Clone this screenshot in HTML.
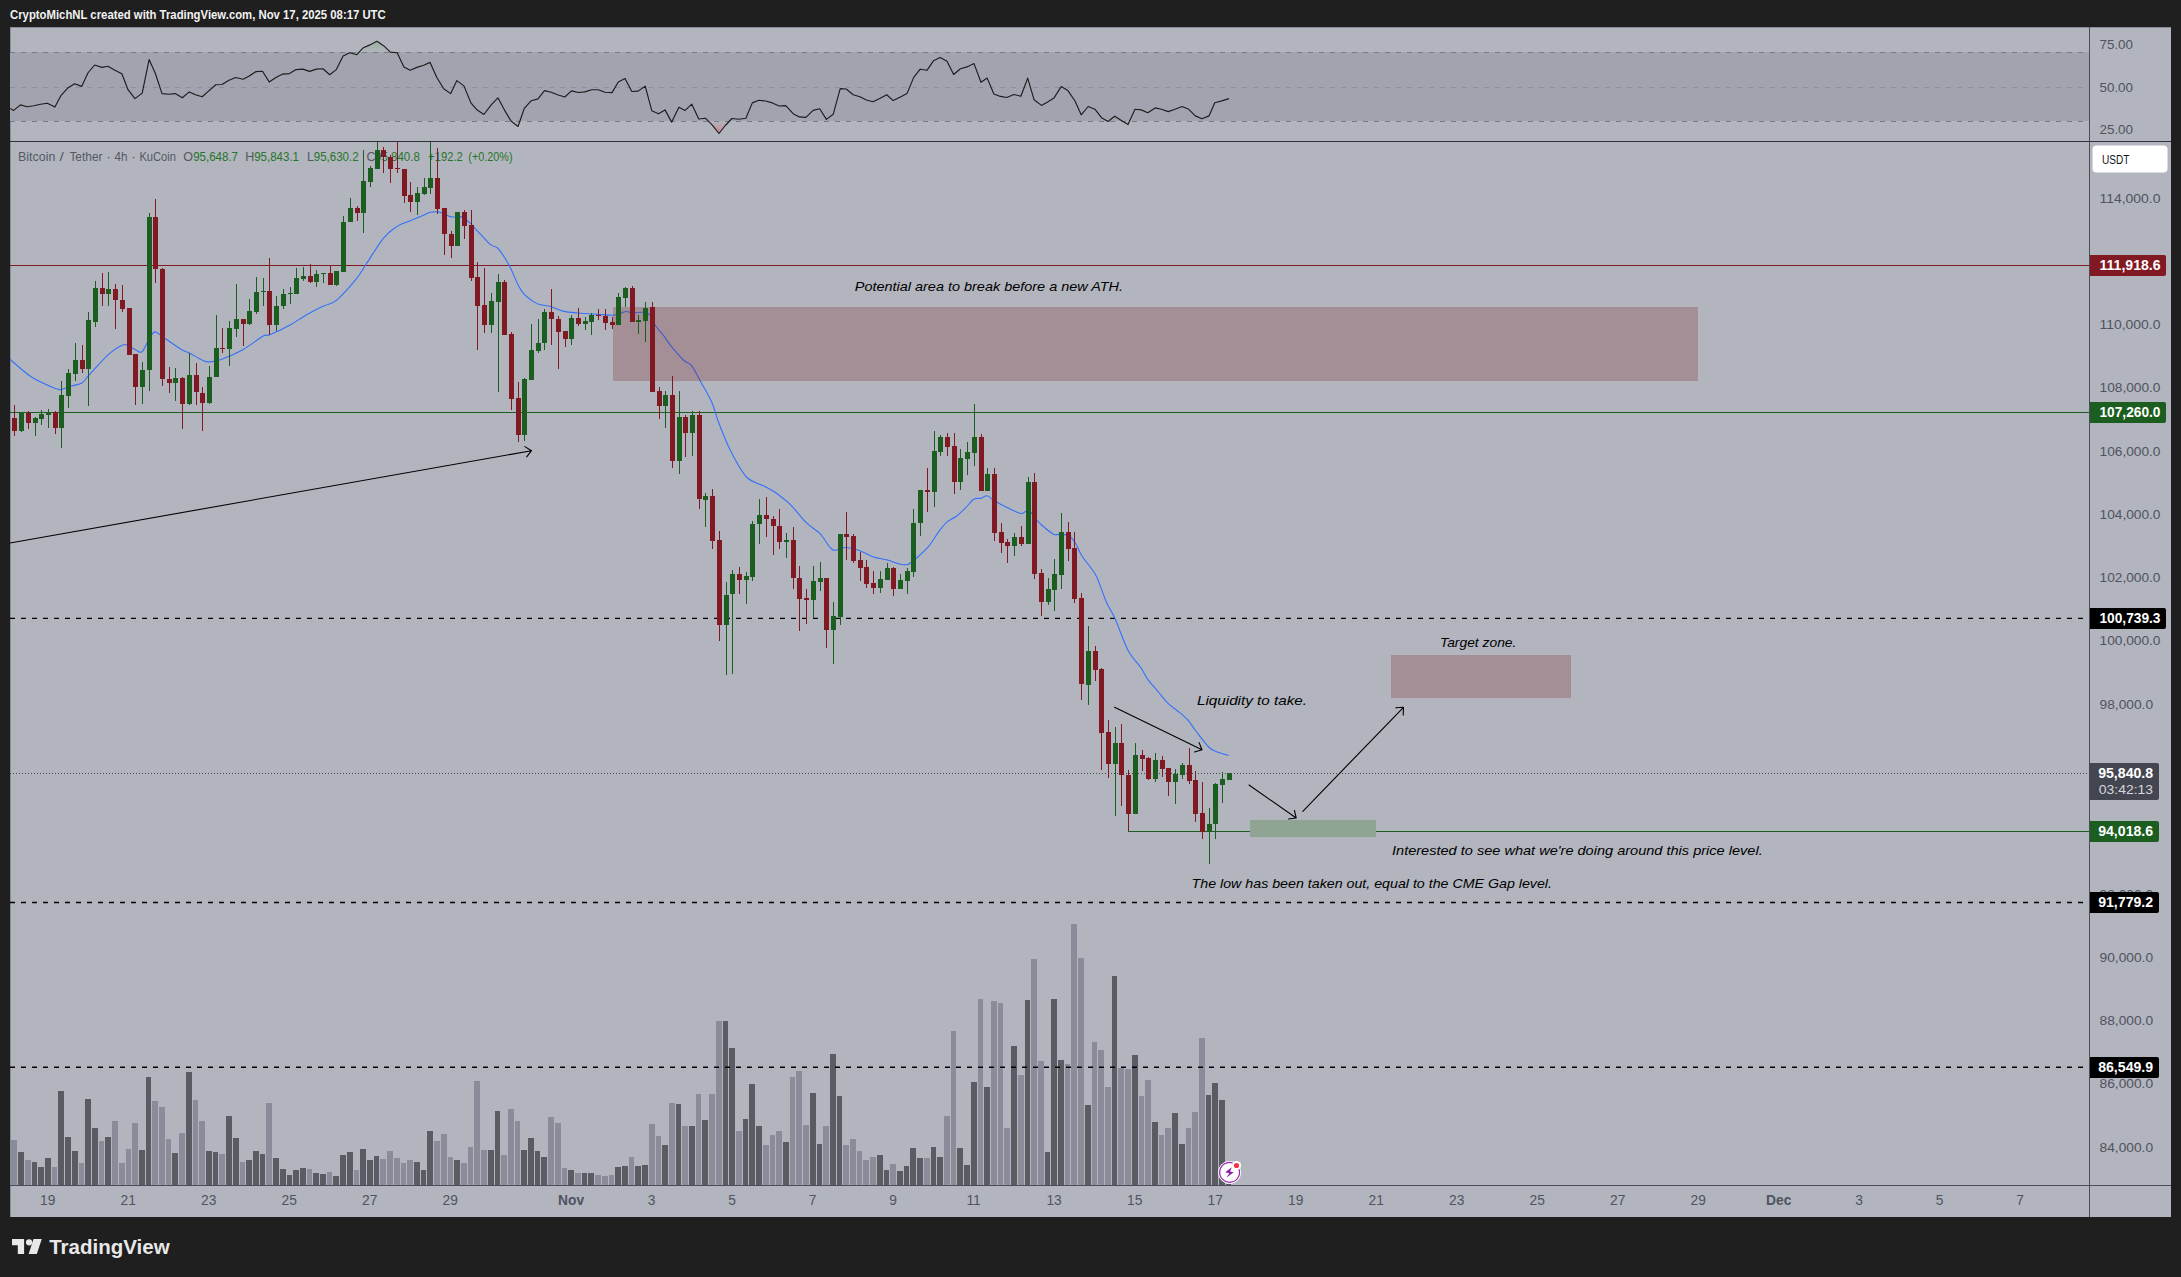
<!DOCTYPE html><html><head><meta charset="utf-8"><title>chart</title><style>html,body{margin:0;padding:0;background:#1f1f1f;width:2181px;height:1277px;overflow:hidden}</style></head><body><svg width="2181" height="1277" viewBox="0 0 2181 1277" style="position:absolute;left:0;top:0;font-family:'Liberation Sans',sans-serif">
<rect x="0" y="0" width="2181" height="1277" fill="#1f1f1f"/>
<rect x="10" y="27" width="2161" height="1190" fill="#b2b5be"/>
<rect x="10" y="27" width="2161" height="1" fill="#8a8d97"/>
<rect x="10" y="27" width="1" height="1190" fill="#8a8d97"/>
<defs><clipPath id="cp"><rect x="10" y="142" width="2079" height="1043"/></clipPath><clipPath id="cr"><rect x="10" y="28" width="2079" height="113"/></clipPath>
<linearGradient id="gob" gradientUnits="userSpaceOnUse" x1="0" y1="27" x2="0" y2="52.5"><stop offset="0" stop-color="#4caf50" stop-opacity="0.6"/><stop offset="1" stop-color="#4caf50" stop-opacity="0"/></linearGradient>
<linearGradient id="gos" gradientUnits="userSpaceOnUse" x1="0" y1="121.5" x2="0" y2="141"><stop offset="0" stop-color="#f23645" stop-opacity="0"/><stop offset="1" stop-color="#f23645" stop-opacity="0.6"/></linearGradient>
</defs>
<rect x="10" y="52" width="2079" height="69" fill="#a1a4ae"/>
<path d="M10 52.5H2089" stroke="#787b86" stroke-width="1" stroke-dasharray="5 6" fill="none" shape-rendering="crispEdges"/>
<path d="M10 87.5H2089" stroke="#8d909b" stroke-width="1" stroke-dasharray="5 6" fill="none" shape-rendering="crispEdges"/>
<path d="M10 121.5H2089" stroke="#787b86" stroke-width="1" stroke-dasharray="5 6" fill="none" shape-rendering="crispEdges"/>
<g clip-path="url(#cr)">
<clipPath id="c70"><rect x="10" y="28" width="2079" height="24.5"/></clipPath><clipPath id="c30"><rect x="10" y="121.5" width="2079" height="20"/></clipPath>
<path d="M10.0 108.4 L13.7 110.4 L20.4 104.9 L27.1 106.8 L33.9 105.7 L40.6 104.2 L47.3 103.2 L54.9 107.0 L61.1 95.3 L67.7 88.1 L74.7 83.7 L81.7 86.4 L87.9 73.0 L94.6 65.0 L102.0 67.4 L107.9 66.3 L114.9 70.2 L121.9 73.8 L128.0 89.7 L135.0 98.6 L142.2 93.1 L149.1 59.6 L155.4 73.5 L162.0 93.6 L169.0 94.3 L175.2 93.6 L182.3 97.8 L189.3 91.9 L195.5 94.7 L202.2 96.8 L208.8 90.9 L215.8 84.7 L222.0 84.5 L229.0 80.2 L235.7 77.5 L243.1 79.2 L249.3 76.1 L256.0 71.6 L262.5 71.3 L269.2 81.9 L276.3 77.2 L282.8 74.1 L289.5 73.6 L296.1 69.6 L302.8 69.1 L309.6 71.4 L316.3 69.1 L323.0 68.8 L329.7 74.7 L336.3 69.6 L343.1 56.0 L349.8 52.7 L356.8 54.7 L363.4 47.7 L369.9 44.9 L376.9 41.3 L383.6 45.7 L390.4 52.1 L397.2 52.7 L403.9 66.9 L410.2 70.2 L416.9 67.4 L423.7 65.2 L430.1 62.4 L436.7 77.2 L443.7 88.7 L450.7 93.6 L456.9 80.6 L463.9 85.9 L470.9 102.8 L477.2 110.1 L483.9 114.5 L491.2 104.9 L497.9 97.8 L504.5 110.1 L511.0 121.0 L518.0 126.5 L524.3 108.4 L531.3 100.7 L538.0 98.9 L544.5 90.6 L551.2 92.3 L558.2 95.0 L564.8 97.0 L571.5 90.9 L578.2 92.5 L584.8 91.9 L591.8 89.7 L598.3 89.7 L605.0 92.2 L612.0 92.6 L618.3 82.0 L625.0 78.6 L631.8 91.5 L638.1 91.1 L645.2 86.2 L651.8 110.7 L658.5 113.8 L665.0 109.9 L671.7 122.1 L678.9 107.3 L685.1 110.4 L691.8 104.2 L698.8 119.0 L705.4 118.2 L712.1 124.9 L719.0 133.5 L725.3 125.5 L731.9 118.5 L738.6 119.3 L745.9 118.2 L752.3 102.9 L758.9 100.3 L765.6 101.0 L772.4 102.9 L779.1 106.0 L785.7 105.6 L793.2 113.7 L799.4 116.9 L805.9 117.4 L813.1 110.4 L819.7 108.8 L826.4 119.4 L833.2 114.3 L840.2 88.6 L846.2 89.0 L853.2 94.7 L859.9 96.7 L866.4 100.0 L873.0 101.7 L879.7 98.4 L886.7 94.7 L893.2 100.6 L900.4 97.0 L907.0 93.6 L913.7 77.4 L920.2 69.2 L926.9 70.3 L933.5 60.8 L940.2 57.6 L947.0 61.3 L953.7 74.5 L960.4 68.8 L967.0 66.9 L974.0 63.6 L981.0 82.3 L987.2 78.1 L993.9 94.0 L1000.4 96.5 L1000.5 96.4 L1006.8 97.5 L1013.9 94.5 L1020.9 96.2 L1027.7 78.1 L1034.1 99.8 L1041.4 105.4 L1048.1 101.8 L1053.9 98.1 L1061.2 86.6 L1067.9 90.6 L1075.0 101.0 L1081.2 114.8 L1088.2 106.5 L1094.9 109.2 L1101.5 117.7 L1108.0 121.5 L1114.7 116.2 L1121.4 120.5 L1128.0 124.6 L1135.0 109.3 L1141.2 109.9 L1147.8 112.7 L1155.2 107.9 L1161.5 109.2 L1168.2 111.6 L1175.0 109.2 L1182.1 106.5 L1188.8 109.3 L1195.3 115.9 L1202.0 118.7 L1209.0 115.9 L1214.8 102.8 L1221.8 100.9 L1229.0 98.6 L1229.0 52.5 L10 52.5Z" fill="url(#gob)" clip-path="url(#c70)"/>
<path d="M10.0 108.4 L13.7 110.4 L20.4 104.9 L27.1 106.8 L33.9 105.7 L40.6 104.2 L47.3 103.2 L54.9 107.0 L61.1 95.3 L67.7 88.1 L74.7 83.7 L81.7 86.4 L87.9 73.0 L94.6 65.0 L102.0 67.4 L107.9 66.3 L114.9 70.2 L121.9 73.8 L128.0 89.7 L135.0 98.6 L142.2 93.1 L149.1 59.6 L155.4 73.5 L162.0 93.6 L169.0 94.3 L175.2 93.6 L182.3 97.8 L189.3 91.9 L195.5 94.7 L202.2 96.8 L208.8 90.9 L215.8 84.7 L222.0 84.5 L229.0 80.2 L235.7 77.5 L243.1 79.2 L249.3 76.1 L256.0 71.6 L262.5 71.3 L269.2 81.9 L276.3 77.2 L282.8 74.1 L289.5 73.6 L296.1 69.6 L302.8 69.1 L309.6 71.4 L316.3 69.1 L323.0 68.8 L329.7 74.7 L336.3 69.6 L343.1 56.0 L349.8 52.7 L356.8 54.7 L363.4 47.7 L369.9 44.9 L376.9 41.3 L383.6 45.7 L390.4 52.1 L397.2 52.7 L403.9 66.9 L410.2 70.2 L416.9 67.4 L423.7 65.2 L430.1 62.4 L436.7 77.2 L443.7 88.7 L450.7 93.6 L456.9 80.6 L463.9 85.9 L470.9 102.8 L477.2 110.1 L483.9 114.5 L491.2 104.9 L497.9 97.8 L504.5 110.1 L511.0 121.0 L518.0 126.5 L524.3 108.4 L531.3 100.7 L538.0 98.9 L544.5 90.6 L551.2 92.3 L558.2 95.0 L564.8 97.0 L571.5 90.9 L578.2 92.5 L584.8 91.9 L591.8 89.7 L598.3 89.7 L605.0 92.2 L612.0 92.6 L618.3 82.0 L625.0 78.6 L631.8 91.5 L638.1 91.1 L645.2 86.2 L651.8 110.7 L658.5 113.8 L665.0 109.9 L671.7 122.1 L678.9 107.3 L685.1 110.4 L691.8 104.2 L698.8 119.0 L705.4 118.2 L712.1 124.9 L719.0 133.5 L725.3 125.5 L731.9 118.5 L738.6 119.3 L745.9 118.2 L752.3 102.9 L758.9 100.3 L765.6 101.0 L772.4 102.9 L779.1 106.0 L785.7 105.6 L793.2 113.7 L799.4 116.9 L805.9 117.4 L813.1 110.4 L819.7 108.8 L826.4 119.4 L833.2 114.3 L840.2 88.6 L846.2 89.0 L853.2 94.7 L859.9 96.7 L866.4 100.0 L873.0 101.7 L879.7 98.4 L886.7 94.7 L893.2 100.6 L900.4 97.0 L907.0 93.6 L913.7 77.4 L920.2 69.2 L926.9 70.3 L933.5 60.8 L940.2 57.6 L947.0 61.3 L953.7 74.5 L960.4 68.8 L967.0 66.9 L974.0 63.6 L981.0 82.3 L987.2 78.1 L993.9 94.0 L1000.4 96.5 L1000.5 96.4 L1006.8 97.5 L1013.9 94.5 L1020.9 96.2 L1027.7 78.1 L1034.1 99.8 L1041.4 105.4 L1048.1 101.8 L1053.9 98.1 L1061.2 86.6 L1067.9 90.6 L1075.0 101.0 L1081.2 114.8 L1088.2 106.5 L1094.9 109.2 L1101.5 117.7 L1108.0 121.5 L1114.7 116.2 L1121.4 120.5 L1128.0 124.6 L1135.0 109.3 L1141.2 109.9 L1147.8 112.7 L1155.2 107.9 L1161.5 109.2 L1168.2 111.6 L1175.0 109.2 L1182.1 106.5 L1188.8 109.3 L1195.3 115.9 L1202.0 118.7 L1209.0 115.9 L1214.8 102.8 L1221.8 100.9 L1229.0 98.6 L1229.0 121.5 L10 121.5Z" fill="url(#gos)" clip-path="url(#c30)"/>
<path d="M10.0 108.4 L13.7 110.4 L20.4 104.9 L27.1 106.8 L33.9 105.7 L40.6 104.2 L47.3 103.2 L54.9 107.0 L61.1 95.3 L67.7 88.1 L74.7 83.7 L81.7 86.4 L87.9 73.0 L94.6 65.0 L102.0 67.4 L107.9 66.3 L114.9 70.2 L121.9 73.8 L128.0 89.7 L135.0 98.6 L142.2 93.1 L149.1 59.6 L155.4 73.5 L162.0 93.6 L169.0 94.3 L175.2 93.6 L182.3 97.8 L189.3 91.9 L195.5 94.7 L202.2 96.8 L208.8 90.9 L215.8 84.7 L222.0 84.5 L229.0 80.2 L235.7 77.5 L243.1 79.2 L249.3 76.1 L256.0 71.6 L262.5 71.3 L269.2 81.9 L276.3 77.2 L282.8 74.1 L289.5 73.6 L296.1 69.6 L302.8 69.1 L309.6 71.4 L316.3 69.1 L323.0 68.8 L329.7 74.7 L336.3 69.6 L343.1 56.0 L349.8 52.7 L356.8 54.7 L363.4 47.7 L369.9 44.9 L376.9 41.3 L383.6 45.7 L390.4 52.1 L397.2 52.7 L403.9 66.9 L410.2 70.2 L416.9 67.4 L423.7 65.2 L430.1 62.4 L436.7 77.2 L443.7 88.7 L450.7 93.6 L456.9 80.6 L463.9 85.9 L470.9 102.8 L477.2 110.1 L483.9 114.5 L491.2 104.9 L497.9 97.8 L504.5 110.1 L511.0 121.0 L518.0 126.5 L524.3 108.4 L531.3 100.7 L538.0 98.9 L544.5 90.6 L551.2 92.3 L558.2 95.0 L564.8 97.0 L571.5 90.9 L578.2 92.5 L584.8 91.9 L591.8 89.7 L598.3 89.7 L605.0 92.2 L612.0 92.6 L618.3 82.0 L625.0 78.6 L631.8 91.5 L638.1 91.1 L645.2 86.2 L651.8 110.7 L658.5 113.8 L665.0 109.9 L671.7 122.1 L678.9 107.3 L685.1 110.4 L691.8 104.2 L698.8 119.0 L705.4 118.2 L712.1 124.9 L719.0 133.5 L725.3 125.5 L731.9 118.5 L738.6 119.3 L745.9 118.2 L752.3 102.9 L758.9 100.3 L765.6 101.0 L772.4 102.9 L779.1 106.0 L785.7 105.6 L793.2 113.7 L799.4 116.9 L805.9 117.4 L813.1 110.4 L819.7 108.8 L826.4 119.4 L833.2 114.3 L840.2 88.6 L846.2 89.0 L853.2 94.7 L859.9 96.7 L866.4 100.0 L873.0 101.7 L879.7 98.4 L886.7 94.7 L893.2 100.6 L900.4 97.0 L907.0 93.6 L913.7 77.4 L920.2 69.2 L926.9 70.3 L933.5 60.8 L940.2 57.6 L947.0 61.3 L953.7 74.5 L960.4 68.8 L967.0 66.9 L974.0 63.6 L981.0 82.3 L987.2 78.1 L993.9 94.0 L1000.4 96.5 L1000.5 96.4 L1006.8 97.5 L1013.9 94.5 L1020.9 96.2 L1027.7 78.1 L1034.1 99.8 L1041.4 105.4 L1048.1 101.8 L1053.9 98.1 L1061.2 86.6 L1067.9 90.6 L1075.0 101.0 L1081.2 114.8 L1088.2 106.5 L1094.9 109.2 L1101.5 117.7 L1108.0 121.5 L1114.7 116.2 L1121.4 120.5 L1128.0 124.6 L1135.0 109.3 L1141.2 109.9 L1147.8 112.7 L1155.2 107.9 L1161.5 109.2 L1168.2 111.6 L1175.0 109.2 L1182.1 106.5 L1188.8 109.3 L1195.3 115.9 L1202.0 118.7 L1209.0 115.9 L1214.8 102.8 L1221.8 100.9 L1229.0 98.6" fill="none" stroke="#1c1c1c" stroke-width="1.15" stroke-linejoin="round"/>
</g>
<g clip-path="url(#cp)">
<g font-size="12.6" fill="#555863">
<text x="18.1" y="161.3" textLength="37.2" lengthAdjust="spacingAndGlyphs" >Bitcoin</text>
<text x="59.6" y="161.3" textLength="4.3" lengthAdjust="spacingAndGlyphs" >/</text>
<text x="69.4" y="161.3" textLength="33.2" lengthAdjust="spacingAndGlyphs" >Tether</text>
<text x="106.5" y="161.3" >·</text>
<text x="114.6" y="161.3" textLength="13" lengthAdjust="spacingAndGlyphs" >4h</text>
<text x="131.6" y="161.3" >·</text>
<text x="139.4" y="161.3" textLength="36.6" lengthAdjust="spacingAndGlyphs" >KuCoin</text>
<text x="183.3" y="161.3" >O</text>
<text x="193.2" y="161.3" textLength="44.8" lengthAdjust="spacingAndGlyphs" fill="#26742b">95,648.7</text>
<text x="245.2" y="161.3" >H</text>
<text x="254.2" y="161.3" textLength="44.8" lengthAdjust="spacingAndGlyphs" fill="#26742b">95,843.1</text>
<text x="307" y="161.3" >L</text>
<text x="313.8" y="161.3" textLength="44.8" lengthAdjust="spacingAndGlyphs" fill="#26742b">95,630.2</text>
<text x="366.5" y="161.3" >C</text>
<text x="375" y="161.3" textLength="44.8" lengthAdjust="spacingAndGlyphs" fill="#26742b">95,840.8</text>
<text x="428.2" y="161.3" textLength="34.6" lengthAdjust="spacingAndGlyphs" fill="#26742b">+192.2</text>
<text x="468.3" y="161.3" textLength="44.2" lengthAdjust="spacingAndGlyphs" fill="#26742b">(+0.20%)</text>
</g>
<rect x="10" y="265" width="2079" height="1" fill="#801922"/>
<rect x="10" y="412" width="2079" height="1" fill="#1b5e20"/>
<rect x="1128" y="831" width="961" height="1" fill="#1b5e20"/>
<path d="M10 773.5H2089" stroke="#434651" stroke-width="1" stroke-dasharray="1 2" fill="none" shape-rendering="crispEdges"/>
<g shape-rendering="crispEdges">
<rect x="11" y="1140" width="6" height="45" fill="#8b8c99"/>
<rect x="18" y="1152" width="6" height="33" fill="#5b5c63"/>
<rect x="25" y="1160" width="6" height="25" fill="#8b8c99"/>
<rect x="32" y="1162" width="5" height="23" fill="#5b5c63"/>
<rect x="38" y="1167" width="6" height="18" fill="#5b5c63"/>
<rect x="45" y="1158" width="6" height="27" fill="#5b5c63"/>
<rect x="52" y="1167" width="5" height="18" fill="#8b8c99"/>
<rect x="58" y="1091" width="6" height="94" fill="#5b5c63"/>
<rect x="65" y="1137" width="6" height="48" fill="#5b5c63"/>
<rect x="72" y="1151" width="6" height="34" fill="#5b5c63"/>
<rect x="79" y="1163" width="5" height="22" fill="#8b8c99"/>
<rect x="85" y="1099" width="6" height="86" fill="#5b5c63"/>
<rect x="92" y="1128" width="6" height="57" fill="#5b5c63"/>
<rect x="99" y="1141" width="5" height="44" fill="#8b8c99"/>
<rect x="105" y="1137" width="6" height="48" fill="#5b5c63"/>
<rect x="112" y="1121" width="6" height="64" fill="#8b8c99"/>
<rect x="119" y="1163" width="6" height="22" fill="#8b8c99"/>
<rect x="126" y="1149" width="5" height="36" fill="#8b8c99"/>
<rect x="132" y="1123" width="6" height="62" fill="#8b8c99"/>
<rect x="139" y="1150" width="6" height="35" fill="#5b5c63"/>
<rect x="146" y="1077" width="5" height="108" fill="#5b5c63"/>
<rect x="152" y="1101" width="6" height="84" fill="#8b8c99"/>
<rect x="159" y="1107" width="6" height="78" fill="#8b8c99"/>
<rect x="166" y="1139" width="5" height="46" fill="#8b8c99"/>
<rect x="172" y="1153" width="6" height="32" fill="#5b5c63"/>
<rect x="179" y="1133" width="6" height="52" fill="#8b8c99"/>
<rect x="186" y="1072" width="6" height="113" fill="#5b5c63"/>
<rect x="193" y="1100" width="5" height="85" fill="#8b8c99"/>
<rect x="199" y="1121" width="6" height="64" fill="#8b8c99"/>
<rect x="206" y="1151" width="6" height="34" fill="#5b5c63"/>
<rect x="213" y="1152" width="5" height="33" fill="#5b5c63"/>
<rect x="219" y="1154" width="6" height="31" fill="#8b8c99"/>
<rect x="226" y="1116" width="6" height="69" fill="#5b5c63"/>
<rect x="233" y="1138" width="6" height="47" fill="#5b5c63"/>
<rect x="240" y="1162" width="5" height="23" fill="#8b8c99"/>
<rect x="246" y="1160" width="6" height="25" fill="#5b5c63"/>
<rect x="253" y="1151" width="6" height="34" fill="#5b5c63"/>
<rect x="260" y="1154" width="5" height="31" fill="#5b5c63"/>
<rect x="266" y="1103" width="6" height="82" fill="#8b8c99"/>
<rect x="273" y="1158" width="6" height="27" fill="#5b5c63"/>
<rect x="280" y="1169" width="6" height="16" fill="#5b5c63"/>
<rect x="287" y="1175" width="5" height="10" fill="#5b5c63"/>
<rect x="293" y="1170" width="6" height="15" fill="#5b5c63"/>
<rect x="300" y="1168" width="6" height="17" fill="#5b5c63"/>
<rect x="307" y="1169" width="5" height="16" fill="#8b8c99"/>
<rect x="313" y="1173" width="6" height="12" fill="#5b5c63"/>
<rect x="320" y="1174" width="6" height="11" fill="#5b5c63"/>
<rect x="327" y="1172" width="5" height="13" fill="#8b8c99"/>
<rect x="333" y="1176" width="6" height="9" fill="#5b5c63"/>
<rect x="340" y="1155" width="6" height="30" fill="#5b5c63"/>
<rect x="347" y="1152" width="6" height="33" fill="#5b5c63"/>
<rect x="354" y="1170" width="5" height="15" fill="#8b8c99"/>
<rect x="360" y="1149" width="6" height="36" fill="#5b5c63"/>
<rect x="367" y="1160" width="6" height="25" fill="#5b5c63"/>
<rect x="374" y="1156" width="5" height="29" fill="#5b5c63"/>
<rect x="380" y="1159" width="6" height="26" fill="#8b8c99"/>
<rect x="387" y="1151" width="6" height="34" fill="#8b8c99"/>
<rect x="394" y="1158" width="6" height="27" fill="#8b8c99"/>
<rect x="401" y="1163" width="5" height="22" fill="#8b8c99"/>
<rect x="407" y="1160" width="6" height="25" fill="#8b8c99"/>
<rect x="414" y="1162" width="6" height="23" fill="#5b5c63"/>
<rect x="421" y="1170" width="5" height="15" fill="#5b5c63"/>
<rect x="427" y="1131" width="6" height="54" fill="#5b5c63"/>
<rect x="434" y="1141" width="6" height="44" fill="#8b8c99"/>
<rect x="441" y="1134" width="6" height="51" fill="#8b8c99"/>
<rect x="448" y="1157" width="5" height="28" fill="#8b8c99"/>
<rect x="454" y="1160" width="6" height="25" fill="#5b5c63"/>
<rect x="461" y="1163" width="6" height="22" fill="#8b8c99"/>
<rect x="468" y="1147" width="5" height="38" fill="#8b8c99"/>
<rect x="474" y="1081" width="6" height="104" fill="#8b8c99"/>
<rect x="481" y="1150" width="6" height="35" fill="#8b8c99"/>
<rect x="488" y="1150" width="6" height="35" fill="#5b5c63"/>
<rect x="495" y="1111" width="5" height="74" fill="#5b5c63"/>
<rect x="501" y="1155" width="6" height="30" fill="#8b8c99"/>
<rect x="508" y="1109" width="6" height="76" fill="#8b8c99"/>
<rect x="515" y="1121" width="5" height="64" fill="#8b8c99"/>
<rect x="521" y="1150" width="6" height="35" fill="#5b5c63"/>
<rect x="528" y="1138" width="6" height="47" fill="#5b5c63"/>
<rect x="535" y="1151" width="5" height="34" fill="#5b5c63"/>
<rect x="541" y="1157" width="6" height="28" fill="#5b5c63"/>
<rect x="548" y="1117" width="6" height="68" fill="#8b8c99"/>
<rect x="555" y="1123" width="6" height="62" fill="#8b8c99"/>
<rect x="562" y="1168" width="5" height="17" fill="#8b8c99"/>
<rect x="568" y="1170" width="6" height="15" fill="#5b5c63"/>
<rect x="575" y="1173" width="6" height="12" fill="#8b8c99"/>
<rect x="582" y="1173" width="5" height="12" fill="#5b5c63"/>
<rect x="588" y="1173" width="6" height="12" fill="#5b5c63"/>
<rect x="595" y="1175" width="6" height="10" fill="#8b8c99"/>
<rect x="602" y="1176" width="6" height="9" fill="#8b8c99"/>
<rect x="609" y="1175" width="5" height="10" fill="#8b8c99"/>
<rect x="615" y="1167" width="6" height="18" fill="#5b5c63"/>
<rect x="622" y="1166" width="6" height="19" fill="#5b5c63"/>
<rect x="629" y="1157" width="5" height="28" fill="#8b8c99"/>
<rect x="635" y="1166" width="6" height="19" fill="#5b5c63"/>
<rect x="642" y="1165" width="6" height="20" fill="#5b5c63"/>
<rect x="649" y="1124" width="6" height="61" fill="#8b8c99"/>
<rect x="656" y="1136" width="5" height="49" fill="#8b8c99"/>
<rect x="662" y="1145" width="6" height="40" fill="#5b5c63"/>
<rect x="669" y="1103" width="6" height="82" fill="#8b8c99"/>
<rect x="676" y="1104" width="5" height="81" fill="#5b5c63"/>
<rect x="682" y="1126" width="6" height="59" fill="#8b8c99"/>
<rect x="689" y="1126" width="6" height="59" fill="#5b5c63"/>
<rect x="696" y="1094" width="5" height="91" fill="#8b8c99"/>
<rect x="702" y="1120" width="6" height="65" fill="#5b5c63"/>
<rect x="709" y="1094" width="6" height="91" fill="#8b8c99"/>
<rect x="716" y="1021" width="6" height="164" fill="#8b8c99"/>
<rect x="723" y="1021" width="5" height="164" fill="#5b5c63"/>
<rect x="729" y="1048" width="6" height="137" fill="#5b5c63"/>
<rect x="736" y="1131" width="6" height="54" fill="#8b8c99"/>
<rect x="743" y="1119" width="5" height="66" fill="#5b5c63"/>
<rect x="749" y="1084" width="6" height="101" fill="#5b5c63"/>
<rect x="756" y="1126" width="6" height="59" fill="#5b5c63"/>
<rect x="763" y="1145" width="6" height="40" fill="#8b8c99"/>
<rect x="770" y="1135" width="5" height="50" fill="#8b8c99"/>
<rect x="776" y="1131" width="6" height="54" fill="#8b8c99"/>
<rect x="783" y="1142" width="6" height="43" fill="#5b5c63"/>
<rect x="790" y="1077" width="5" height="108" fill="#8b8c99"/>
<rect x="796" y="1071" width="6" height="114" fill="#8b8c99"/>
<rect x="803" y="1125" width="6" height="60" fill="#8b8c99"/>
<rect x="810" y="1093" width="6" height="92" fill="#5b5c63"/>
<rect x="817" y="1144" width="5" height="41" fill="#5b5c63"/>
<rect x="823" y="1126" width="6" height="59" fill="#8b8c99"/>
<rect x="830" y="1054" width="6" height="131" fill="#5b5c63"/>
<rect x="837" y="1096" width="5" height="89" fill="#5b5c63"/>
<rect x="843" y="1145" width="6" height="40" fill="#8b8c99"/>
<rect x="850" y="1139" width="6" height="46" fill="#8b8c99"/>
<rect x="857" y="1151" width="5" height="34" fill="#8b8c99"/>
<rect x="863" y="1160" width="6" height="25" fill="#8b8c99"/>
<rect x="870" y="1157" width="6" height="28" fill="#8b8c99"/>
<rect x="877" y="1155" width="6" height="30" fill="#5b5c63"/>
<rect x="884" y="1170" width="5" height="15" fill="#5b5c63"/>
<rect x="890" y="1164" width="6" height="21" fill="#8b8c99"/>
<rect x="897" y="1171" width="6" height="14" fill="#5b5c63"/>
<rect x="904" y="1166" width="5" height="19" fill="#5b5c63"/>
<rect x="910" y="1148" width="6" height="37" fill="#5b5c63"/>
<rect x="917" y="1158" width="6" height="27" fill="#5b5c63"/>
<rect x="924" y="1158" width="6" height="27" fill="#8b8c99"/>
<rect x="931" y="1147" width="5" height="38" fill="#5b5c63"/>
<rect x="937" y="1157" width="6" height="28" fill="#5b5c63"/>
<rect x="944" y="1116" width="6" height="69" fill="#8b8c99"/>
<rect x="951" y="1031" width="5" height="154" fill="#8b8c99"/>
<rect x="957" y="1148" width="6" height="37" fill="#5b5c63"/>
<rect x="964" y="1165" width="6" height="20" fill="#5b5c63"/>
<rect x="971" y="1082" width="6" height="103" fill="#5b5c63"/>
<rect x="978" y="999" width="5" height="186" fill="#8b8c99"/>
<rect x="984" y="1087" width="6" height="98" fill="#5b5c63"/>
<rect x="991" y="1001" width="6" height="184" fill="#8b8c99"/>
<rect x="998" y="1003" width="5" height="182" fill="#8b8c99"/>
<rect x="1004" y="1128" width="6" height="57" fill="#8b8c99"/>
<rect x="1011" y="1046" width="6" height="139" fill="#5b5c63"/>
<rect x="1018" y="1075" width="6" height="110" fill="#8b8c99"/>
<rect x="1025" y="1000" width="5" height="185" fill="#5b5c63"/>
<rect x="1031" y="959" width="6" height="226" fill="#8b8c99"/>
<rect x="1038" y="1061" width="6" height="124" fill="#8b8c99"/>
<rect x="1045" y="1152" width="5" height="33" fill="#5b5c63"/>
<rect x="1051" y="999" width="6" height="186" fill="#5b5c63"/>
<rect x="1058" y="1060" width="6" height="125" fill="#5b5c63"/>
<rect x="1065" y="1064" width="5" height="121" fill="#8b8c99"/>
<rect x="1071" y="924" width="6" height="261" fill="#8b8c99"/>
<rect x="1078" y="958" width="6" height="227" fill="#8b8c99"/>
<rect x="1085" y="1105" width="6" height="80" fill="#5b5c63"/>
<rect x="1092" y="1042" width="5" height="143" fill="#8b8c99"/>
<rect x="1098" y="1050" width="6" height="135" fill="#8b8c99"/>
<rect x="1105" y="1087" width="6" height="98" fill="#8b8c99"/>
<rect x="1112" y="976" width="5" height="209" fill="#5b5c63"/>
<rect x="1118" y="1068" width="6" height="117" fill="#8b8c99"/>
<rect x="1125" y="1069" width="6" height="116" fill="#8b8c99"/>
<rect x="1132" y="1055" width="6" height="130" fill="#5b5c63"/>
<rect x="1139" y="1096" width="5" height="89" fill="#8b8c99"/>
<rect x="1145" y="1080" width="6" height="105" fill="#8b8c99"/>
<rect x="1152" y="1122" width="6" height="63" fill="#5b5c63"/>
<rect x="1159" y="1135" width="5" height="50" fill="#8b8c99"/>
<rect x="1165" y="1128" width="6" height="57" fill="#8b8c99"/>
<rect x="1172" y="1113" width="6" height="72" fill="#5b5c63"/>
<rect x="1179" y="1144" width="6" height="41" fill="#5b5c63"/>
<rect x="1186" y="1128" width="5" height="57" fill="#8b8c99"/>
<rect x="1192" y="1112" width="6" height="73" fill="#8b8c99"/>
<rect x="1199" y="1038" width="6" height="147" fill="#8b8c99"/>
<rect x="1206" y="1095" width="5" height="90" fill="#5b5c63"/>
<rect x="1212" y="1083" width="6" height="102" fill="#5b5c63"/>
<rect x="1219" y="1100" width="6" height="85" fill="#5b5c63"/>
<rect x="1226" y="1184" width="5" height="1" fill="#5b5c63"/>
</g>
<path d="M10 618.4H2089" stroke="#000" stroke-width="1.4" stroke-dasharray="5 6" fill="none"/>
<path d="M10 902.5H2089" stroke="#000" stroke-width="1.4" stroke-dasharray="5 6" fill="none"/>
<path d="M10 1067.3H2089" stroke="#000" stroke-width="1.4" stroke-dasharray="5 6" fill="none"/>
<path d="M10.0 359.3 C13.7 362.3 24.4 372.5 31.9 377.3 C39.4 382.1 50.0 386.2 54.9 388.3 C59.9 390.3 58.8 389.7 61.5 389.4 C64.3 389.0 67.9 387.2 71.4 386.1 C74.9 385.0 79.4 384.6 82.3 382.8 C85.3 380.9 84.5 379.9 88.9 375.1 C93.3 370.4 103.0 359.3 108.6 354.3 C114.3 349.2 119.6 346.2 122.9 344.9 C126.2 343.5 126.2 345.1 128.4 345.9 C130.6 346.8 133.7 348.9 136.0 349.9 C138.4 350.8 139.8 353.8 142.2 351.6 C144.6 349.5 148.1 340.0 150.3 336.7 C152.5 333.5 153.1 331.8 155.3 331.9 C157.5 332.0 159.2 334.5 163.5 337.4 C167.7 340.3 176.6 346.6 181.0 349.2 C185.4 351.9 186.1 351.3 189.8 353.2 C193.4 355.0 199.6 359.0 202.9 360.4 C206.2 361.9 206.6 362.1 209.5 361.9 C212.4 361.8 215.0 361.8 220.4 359.8 C225.9 357.7 235.2 353.8 242.4 349.9 C249.5 345.9 258.6 338.6 263.2 336.1 C267.8 333.6 265.2 336.7 269.8 334.8 C274.3 332.9 284.9 327.8 290.6 324.7 C296.3 321.6 298.3 319.5 303.8 316.4 C309.2 313.2 318.0 308.8 323.5 306.0 C329.0 303.3 331.1 304.8 336.6 300.1 C342.2 295.5 351.7 284.4 356.7 278.3 C361.7 272.3 362.0 270.4 366.4 263.8 C370.9 257.1 378.3 244.5 383.4 238.3 C388.4 232.1 392.3 229.6 396.7 226.6 C401.2 223.7 405.8 222.6 410.1 220.8 C414.3 219.0 418.9 217.1 422.2 215.7 C425.5 214.3 427.4 213.0 430.0 212.3 C432.6 211.7 435.6 211.6 438.0 211.8 C440.3 212.1 441.8 213.2 444.1 214.0 C446.3 214.9 448.5 216.4 451.3 216.9 C454.2 217.4 458.0 216.0 461.0 216.9 C464.1 217.9 466.9 220.3 469.5 222.5 C472.2 224.7 473.4 226.6 476.8 230.3 C480.3 233.9 486.7 241.4 490.2 244.4 C493.6 247.3 495.0 245.8 497.5 248.0 C499.9 250.2 502.5 254.3 504.7 257.7 C507.0 261.1 508.6 264.1 510.8 268.6 C513.0 273.2 515.9 280.6 518.1 284.9 C520.3 289.1 521.9 291.6 524.1 294.1 C526.4 296.7 529.0 298.5 531.4 300.2 C533.9 301.9 535.7 303.3 538.7 304.3 C541.7 305.3 545.6 305.1 549.6 306.2 C553.7 307.4 558.3 310.0 563.0 311.1 C567.6 312.2 571.9 312.5 577.5 313.0 C583.2 313.6 591.1 313.9 597.0 314.2 C602.8 314.6 609.1 315.2 612.7 315.2 C616.4 315.2 616.7 314.9 618.8 314.2 C620.9 313.6 622.9 311.8 625.3 311.6 C627.8 311.3 630.4 312.7 633.4 312.8 C636.3 312.9 640.2 311.9 643.1 312.3 C645.9 312.7 648.2 312.9 650.3 315.2 C652.4 317.5 653.5 322.7 655.7 326.0 C657.9 329.4 660.9 332.0 663.5 335.4 C666.1 338.8 667.9 342.2 671.3 346.4 C674.7 350.6 680.5 357.2 683.9 360.5 C687.2 363.7 688.8 362.1 691.7 365.8 C694.6 369.5 697.7 376.2 701.1 382.4 C704.5 388.6 709.2 396.2 712.0 402.8 C714.9 409.3 715.2 413.5 718.3 421.6 C721.4 429.7 726.1 442.1 730.8 451.3 C735.5 460.6 740.8 471.1 746.5 477.0 C752.2 482.9 760.6 484.2 765.3 486.7 C770.0 489.2 770.5 489.1 774.7 492.0 C778.9 495.0 785.1 499.5 790.4 504.6 C795.6 509.6 801.1 517.6 806.0 522.4 C811.0 527.3 815.7 529.2 820.1 533.7 C824.5 538.2 828.5 547.4 832.6 549.7 C836.8 552.0 840.7 547.3 845.2 547.5 C849.6 547.6 854.6 549.0 859.3 550.6 C864.0 552.2 868.7 555.3 873.4 556.9 C878.1 558.4 883.0 558.8 887.5 560.0 C891.9 561.2 896.6 563.3 900.0 564.1 C903.4 564.8 905.2 565.3 907.8 564.4 C910.4 563.5 912.3 561.7 915.6 558.8 C919.0 555.8 924.3 551.4 928.2 546.9 C932.1 542.3 936.0 535.4 939.1 531.2 C942.3 527.0 944.1 524.3 947.0 521.8 C949.8 519.3 953.2 518.5 956.4 516.2 C959.5 513.8 962.9 510.5 965.8 507.7 C968.6 504.9 971.0 500.8 973.6 499.2 C976.2 497.7 978.9 498.8 981.1 498.2 C983.4 497.6 984.9 495.5 987.0 495.8 C989.2 496.2 990.7 498.6 994.1 500.5 C997.4 502.5 1002.5 505.4 1007.0 507.6 C1011.5 509.7 1017.6 513.0 1021.1 513.5 C1024.6 513.9 1025.9 509.9 1028.1 510.4 C1030.4 511.0 1032.3 514.4 1034.5 516.8 C1036.6 519.1 1037.8 521.6 1041.0 524.5 C1044.3 527.4 1050.6 532.8 1054.0 534.4 C1057.4 535.9 1058.7 533.5 1061.5 533.9 C1064.2 534.3 1067.9 535.2 1070.4 537.0 C1072.9 538.7 1074.3 541.3 1076.3 544.5 C1078.2 547.7 1079.0 551.3 1082.2 556.2 C1085.3 561.1 1091.9 568.6 1095.1 573.8 C1098.2 579.1 1099.0 583.0 1101.0 587.9 C1102.9 592.9 1104.6 598.4 1107.0 603.5 C1109.3 608.6 1111.6 610.7 1115.0 618.5 C1118.5 626.3 1123.7 642.0 1128.0 650.2 C1132.3 658.4 1137.6 662.9 1140.9 667.8 C1144.2 672.7 1145.0 675.5 1147.9 679.6 C1150.9 683.6 1155.3 688.3 1158.7 692.3 C1162.0 696.3 1164.5 699.9 1168.1 703.3 C1171.6 706.7 1176.5 709.9 1179.8 712.7 C1183.1 715.6 1185.3 717.1 1188.0 720.2 C1190.8 723.4 1192.7 727.0 1196.3 731.5 C1199.8 736.1 1205.7 744.1 1209.2 747.5 C1212.7 750.9 1214.9 750.8 1217.4 752.0 C1219.9 753.1 1222.6 753.7 1224.4 754.3 C1226.3 754.9 1228.0 755.3 1228.7 755.5" fill="none" stroke="#3470fb" stroke-width="1.1"/>
<rect x="613" y="307" width="1085" height="74" fill="#801922" fill-opacity="0.243"/>
<rect x="1391" y="655" width="180" height="43" fill="#801922" fill-opacity="0.243"/>
<rect x="1250" y="820" width="126" height="17" fill="#8fa493"/>
<g shape-rendering="crispEdges">
<rect x="14" y="405" width="1" height="31" fill="#801922"/><rect x="12" y="418" width="5" height="13" fill="#801922"/>
<rect x="21" y="412" width="1" height="20" fill="#1b5e20"/><rect x="19" y="412" width="5" height="19" fill="#1b5e20"/>
<rect x="28" y="411" width="1" height="18" fill="#801922"/><rect x="26" y="413" width="5" height="10" fill="#801922"/>
<rect x="35" y="417" width="1" height="19" fill="#1b5e20"/><rect x="33" y="418" width="5" height="5" fill="#1b5e20"/>
<rect x="41" y="410" width="1" height="15" fill="#1b5e20"/><rect x="39" y="414" width="5" height="5" fill="#1b5e20"/>
<rect x="48" y="409" width="1" height="19" fill="#1b5e20"/><rect x="46" y="413" width="5" height="2" fill="#1b5e20"/>
<rect x="55" y="411" width="1" height="23" fill="#801922"/><rect x="53" y="412" width="5" height="16" fill="#801922"/>
<rect x="61" y="381" width="1" height="67" fill="#1b5e20"/><rect x="59" y="395" width="5" height="33" fill="#1b5e20"/>
<rect x="68" y="369" width="1" height="39" fill="#1b5e20"/><rect x="66" y="373" width="5" height="23" fill="#1b5e20"/>
<rect x="75" y="343" width="1" height="38" fill="#1b5e20"/><rect x="73" y="360" width="5" height="14" fill="#1b5e20"/>
<rect x="82" y="345" width="1" height="28" fill="#801922"/><rect x="80" y="360" width="5" height="9" fill="#801922"/>
<rect x="88" y="312" width="1" height="94" fill="#1b5e20"/><rect x="86" y="320" width="5" height="49" fill="#1b5e20"/>
<rect x="95" y="281" width="1" height="46" fill="#1b5e20"/><rect x="93" y="288" width="5" height="34" fill="#1b5e20"/>
<rect x="102" y="273" width="1" height="33" fill="#801922"/><rect x="100" y="288" width="5" height="6" fill="#801922"/>
<rect x="108" y="272" width="1" height="34" fill="#1b5e20"/><rect x="106" y="289" width="5" height="5" fill="#1b5e20"/>
<rect x="115" y="284" width="1" height="45" fill="#801922"/><rect x="113" y="289" width="5" height="11" fill="#801922"/>
<rect x="122" y="285" width="1" height="27" fill="#801922"/><rect x="120" y="300" width="5" height="9" fill="#801922"/>
<rect x="129" y="308" width="1" height="47" fill="#801922"/><rect x="127" y="308" width="5" height="47" fill="#801922"/>
<rect x="135" y="354" width="1" height="51" fill="#801922"/><rect x="133" y="354" width="5" height="33" fill="#801922"/>
<rect x="142" y="362" width="1" height="42" fill="#1b5e20"/><rect x="140" y="370" width="5" height="17" fill="#1b5e20"/>
<rect x="149" y="213" width="1" height="178" fill="#1b5e20"/><rect x="147" y="217" width="5" height="153" fill="#1b5e20"/>
<rect x="155" y="199" width="1" height="84" fill="#801922"/><rect x="153" y="217" width="5" height="52" fill="#801922"/>
<rect x="162" y="268" width="1" height="118" fill="#801922"/><rect x="160" y="269" width="5" height="110" fill="#801922"/>
<rect x="169" y="367" width="1" height="26" fill="#801922"/><rect x="167" y="379" width="5" height="4" fill="#801922"/>
<rect x="175" y="368" width="1" height="33" fill="#1b5e20"/><rect x="173" y="378" width="5" height="5" fill="#1b5e20"/>
<rect x="182" y="377" width="1" height="52" fill="#801922"/><rect x="180" y="378" width="5" height="26" fill="#801922"/>
<rect x="189" y="353" width="1" height="52" fill="#1b5e20"/><rect x="187" y="375" width="5" height="29" fill="#1b5e20"/>
<rect x="196" y="363" width="1" height="42" fill="#801922"/><rect x="194" y="375" width="5" height="17" fill="#801922"/>
<rect x="202" y="387" width="1" height="44" fill="#801922"/><rect x="200" y="393" width="5" height="10" fill="#801922"/>
<rect x="209" y="366" width="1" height="38" fill="#1b5e20"/><rect x="207" y="377" width="5" height="26" fill="#1b5e20"/>
<rect x="216" y="315" width="1" height="62" fill="#1b5e20"/><rect x="214" y="348" width="5" height="29" fill="#1b5e20"/>
<rect x="222" y="328" width="1" height="25" fill="#801922"/><rect x="220" y="348" width="5" height="1" fill="#801922"/>
<rect x="229" y="321" width="1" height="45" fill="#1b5e20"/><rect x="227" y="328" width="5" height="21" fill="#1b5e20"/>
<rect x="236" y="284" width="1" height="53" fill="#1b5e20"/><rect x="234" y="319" width="5" height="10" fill="#1b5e20"/>
<rect x="243" y="319" width="1" height="27" fill="#801922"/><rect x="241" y="319" width="5" height="5" fill="#801922"/>
<rect x="249" y="299" width="1" height="26" fill="#1b5e20"/><rect x="247" y="311" width="5" height="13" fill="#1b5e20"/>
<rect x="256" y="277" width="1" height="37" fill="#1b5e20"/><rect x="254" y="292" width="5" height="20" fill="#1b5e20"/>
<rect x="263" y="278" width="1" height="28" fill="#1b5e20"/><rect x="261" y="291" width="5" height="1" fill="#1b5e20"/>
<rect x="269" y="258" width="1" height="77" fill="#801922"/><rect x="267" y="291" width="5" height="34" fill="#801922"/>
<rect x="276" y="296" width="1" height="35" fill="#1b5e20"/><rect x="274" y="306" width="5" height="19" fill="#1b5e20"/>
<rect x="283" y="289" width="1" height="20" fill="#1b5e20"/><rect x="281" y="294" width="5" height="12" fill="#1b5e20"/>
<rect x="290" y="287" width="1" height="17" fill="#1b5e20"/><rect x="288" y="293" width="5" height="1" fill="#1b5e20"/>
<rect x="296" y="268" width="1" height="26" fill="#1b5e20"/><rect x="294" y="278" width="5" height="16" fill="#1b5e20"/>
<rect x="303" y="267" width="1" height="14" fill="#1b5e20"/><rect x="301" y="276" width="5" height="3" fill="#1b5e20"/>
<rect x="310" y="264" width="1" height="19" fill="#801922"/><rect x="308" y="276" width="5" height="6" fill="#801922"/>
<rect x="316" y="270" width="1" height="17" fill="#1b5e20"/><rect x="314" y="274" width="5" height="8" fill="#1b5e20"/>
<rect x="323" y="273" width="1" height="10" fill="#1b5e20"/><rect x="321" y="273" width="5" height="1" fill="#1b5e20"/>
<rect x="330" y="266" width="1" height="19" fill="#801922"/><rect x="328" y="273" width="5" height="12" fill="#801922"/>
<rect x="336" y="271" width="1" height="15" fill="#1b5e20"/><rect x="334" y="271" width="5" height="14" fill="#1b5e20"/>
<rect x="343" y="216" width="1" height="56" fill="#1b5e20"/><rect x="341" y="222" width="5" height="50" fill="#1b5e20"/>
<rect x="350" y="198" width="1" height="24" fill="#1b5e20"/><rect x="348" y="208" width="5" height="14" fill="#1b5e20"/>
<rect x="357" y="206" width="1" height="15" fill="#801922"/><rect x="355" y="208" width="5" height="5" fill="#801922"/>
<rect x="363" y="150" width="1" height="83" fill="#1b5e20"/><rect x="361" y="181" width="5" height="32" fill="#1b5e20"/>
<rect x="370" y="166" width="1" height="21" fill="#1b5e20"/><rect x="368" y="168" width="5" height="14" fill="#1b5e20"/>
<rect x="377" y="141" width="1" height="28" fill="#1b5e20"/><rect x="375" y="150" width="5" height="19" fill="#1b5e20"/>
<rect x="383" y="147" width="1" height="26" fill="#801922"/><rect x="381" y="150" width="5" height="7" fill="#801922"/>
<rect x="390" y="155" width="1" height="28" fill="#801922"/><rect x="388" y="157" width="5" height="12" fill="#801922"/>
<rect x="397" y="141" width="1" height="32" fill="#801922"/><rect x="395" y="168" width="5" height="1" fill="#801922"/>
<rect x="404" y="169" width="1" height="34" fill="#801922"/><rect x="402" y="169" width="5" height="27" fill="#801922"/>
<rect x="410" y="182" width="1" height="30" fill="#801922"/><rect x="408" y="195" width="5" height="7" fill="#801922"/>
<rect x="417" y="187" width="1" height="28" fill="#1b5e20"/><rect x="415" y="193" width="5" height="9" fill="#1b5e20"/>
<rect x="424" y="178" width="1" height="17" fill="#1b5e20"/><rect x="422" y="187" width="5" height="7" fill="#1b5e20"/>
<rect x="430" y="141" width="1" height="53" fill="#1b5e20"/><rect x="428" y="178" width="5" height="10" fill="#1b5e20"/>
<rect x="437" y="148" width="1" height="66" fill="#801922"/><rect x="435" y="178" width="5" height="31" fill="#801922"/>
<rect x="444" y="208" width="1" height="47" fill="#801922"/><rect x="442" y="208" width="5" height="26" fill="#801922"/>
<rect x="451" y="231" width="1" height="27" fill="#801922"/><rect x="449" y="234" width="5" height="12" fill="#801922"/>
<rect x="457" y="212" width="1" height="34" fill="#1b5e20"/><rect x="455" y="212" width="5" height="34" fill="#1b5e20"/>
<rect x="464" y="210" width="1" height="29" fill="#801922"/><rect x="462" y="212" width="5" height="14" fill="#801922"/>
<rect x="471" y="210" width="1" height="71" fill="#801922"/><rect x="469" y="225" width="5" height="53" fill="#801922"/>
<rect x="477" y="262" width="1" height="88" fill="#801922"/><rect x="475" y="277" width="5" height="29" fill="#801922"/>
<rect x="484" y="268" width="1" height="65" fill="#801922"/><rect x="482" y="305" width="5" height="20" fill="#801922"/>
<rect x="491" y="293" width="1" height="40" fill="#1b5e20"/><rect x="489" y="301" width="5" height="24" fill="#1b5e20"/>
<rect x="498" y="274" width="1" height="118" fill="#1b5e20"/><rect x="496" y="282" width="5" height="20" fill="#1b5e20"/>
<rect x="504" y="280" width="1" height="55" fill="#801922"/><rect x="502" y="282" width="5" height="53" fill="#801922"/>
<rect x="511" y="332" width="1" height="78" fill="#801922"/><rect x="509" y="334" width="5" height="65" fill="#801922"/>
<rect x="518" y="382" width="1" height="60" fill="#801922"/><rect x="516" y="398" width="5" height="37" fill="#801922"/>
<rect x="524" y="378" width="1" height="63" fill="#1b5e20"/><rect x="522" y="379" width="5" height="56" fill="#1b5e20"/>
<rect x="531" y="324" width="1" height="56" fill="#1b5e20"/><rect x="529" y="350" width="5" height="30" fill="#1b5e20"/>
<rect x="538" y="319" width="1" height="34" fill="#1b5e20"/><rect x="536" y="343" width="5" height="8" fill="#1b5e20"/>
<rect x="544" y="309" width="1" height="41" fill="#1b5e20"/><rect x="542" y="312" width="5" height="31" fill="#1b5e20"/>
<rect x="551" y="289" width="1" height="56" fill="#801922"/><rect x="549" y="312" width="5" height="7" fill="#801922"/>
<rect x="558" y="316" width="1" height="53" fill="#801922"/><rect x="556" y="319" width="5" height="13" fill="#801922"/>
<rect x="565" y="331" width="1" height="16" fill="#801922"/><rect x="563" y="331" width="5" height="8" fill="#801922"/>
<rect x="571" y="315" width="1" height="30" fill="#1b5e20"/><rect x="569" y="318" width="5" height="21" fill="#1b5e20"/>
<rect x="578" y="308" width="1" height="18" fill="#801922"/><rect x="576" y="318" width="5" height="6" fill="#801922"/>
<rect x="585" y="317" width="1" height="13" fill="#1b5e20"/><rect x="583" y="321" width="5" height="3" fill="#1b5e20"/>
<rect x="591" y="313" width="1" height="22" fill="#1b5e20"/><rect x="589" y="315" width="5" height="7" fill="#1b5e20"/>
<rect x="598" y="309" width="1" height="11" fill="#801922"/><rect x="596" y="315" width="5" height="1" fill="#801922"/>
<rect x="605" y="309" width="1" height="21" fill="#801922"/><rect x="603" y="316" width="5" height="7" fill="#801922"/>
<rect x="612" y="317" width="1" height="12" fill="#801922"/><rect x="610" y="322" width="5" height="3" fill="#801922"/>
<rect x="618" y="293" width="1" height="32" fill="#1b5e20"/><rect x="616" y="297" width="5" height="28" fill="#1b5e20"/>
<rect x="625" y="287" width="1" height="20" fill="#1b5e20"/><rect x="623" y="288" width="5" height="10" fill="#1b5e20"/>
<rect x="632" y="286" width="1" height="36" fill="#801922"/><rect x="630" y="288" width="5" height="34" fill="#801922"/>
<rect x="638" y="315" width="1" height="19" fill="#1b5e20"/><rect x="636" y="320" width="5" height="2" fill="#1b5e20"/>
<rect x="645" y="302" width="1" height="40" fill="#1b5e20"/><rect x="643" y="308" width="5" height="13" fill="#1b5e20"/>
<rect x="652" y="302" width="1" height="90" fill="#801922"/><rect x="650" y="307" width="5" height="85" fill="#801922"/>
<rect x="659" y="387" width="1" height="32" fill="#801922"/><rect x="657" y="391" width="5" height="15" fill="#801922"/>
<rect x="665" y="391" width="1" height="37" fill="#1b5e20"/><rect x="663" y="395" width="5" height="11" fill="#1b5e20"/>
<rect x="672" y="376" width="1" height="92" fill="#801922"/><rect x="670" y="395" width="5" height="66" fill="#801922"/>
<rect x="679" y="391" width="1" height="83" fill="#1b5e20"/><rect x="677" y="417" width="5" height="44" fill="#1b5e20"/>
<rect x="685" y="415" width="1" height="42" fill="#801922"/><rect x="683" y="417" width="5" height="16" fill="#801922"/>
<rect x="692" y="411" width="1" height="45" fill="#1b5e20"/><rect x="690" y="415" width="5" height="18" fill="#1b5e20"/>
<rect x="699" y="411" width="1" height="98" fill="#801922"/><rect x="697" y="415" width="5" height="84" fill="#801922"/>
<rect x="705" y="493" width="1" height="34" fill="#1b5e20"/><rect x="703" y="496" width="5" height="4" fill="#1b5e20"/>
<rect x="712" y="489" width="1" height="60" fill="#801922"/><rect x="710" y="496" width="5" height="45" fill="#801922"/>
<rect x="719" y="531" width="1" height="110" fill="#801922"/><rect x="717" y="540" width="5" height="85" fill="#801922"/>
<rect x="726" y="582" width="1" height="93" fill="#1b5e20"/><rect x="724" y="595" width="5" height="30" fill="#1b5e20"/>
<rect x="732" y="570" width="1" height="104" fill="#1b5e20"/><rect x="730" y="574" width="5" height="20" fill="#1b5e20"/>
<rect x="739" y="567" width="1" height="27" fill="#801922"/><rect x="737" y="574" width="5" height="6" fill="#801922"/>
<rect x="746" y="572" width="1" height="32" fill="#1b5e20"/><rect x="744" y="576" width="5" height="4" fill="#1b5e20"/>
<rect x="752" y="521" width="1" height="60" fill="#1b5e20"/><rect x="750" y="524" width="5" height="53" fill="#1b5e20"/>
<rect x="759" y="499" width="1" height="45" fill="#1b5e20"/><rect x="757" y="515" width="5" height="9" fill="#1b5e20"/>
<rect x="766" y="497" width="1" height="40" fill="#801922"/><rect x="764" y="515" width="5" height="4" fill="#801922"/>
<rect x="773" y="516" width="1" height="39" fill="#801922"/><rect x="771" y="519" width="5" height="7" fill="#801922"/>
<rect x="779" y="509" width="1" height="40" fill="#801922"/><rect x="777" y="526" width="5" height="16" fill="#801922"/>
<rect x="786" y="533" width="1" height="25" fill="#1b5e20"/><rect x="784" y="540" width="5" height="2" fill="#1b5e20"/>
<rect x="793" y="527" width="1" height="62" fill="#801922"/><rect x="791" y="540" width="5" height="38" fill="#801922"/>
<rect x="799" y="566" width="1" height="65" fill="#801922"/><rect x="797" y="578" width="5" height="21" fill="#801922"/>
<rect x="806" y="589" width="1" height="35" fill="#801922"/><rect x="804" y="598" width="5" height="2" fill="#801922"/>
<rect x="813" y="566" width="1" height="52" fill="#1b5e20"/><rect x="811" y="581" width="5" height="19" fill="#1b5e20"/>
<rect x="820" y="562" width="1" height="29" fill="#1b5e20"/><rect x="818" y="578" width="5" height="4" fill="#1b5e20"/>
<rect x="826" y="578" width="1" height="70" fill="#801922"/><rect x="824" y="578" width="5" height="52" fill="#801922"/>
<rect x="833" y="602" width="1" height="62" fill="#1b5e20"/><rect x="831" y="616" width="5" height="14" fill="#1b5e20"/>
<rect x="840" y="534" width="1" height="91" fill="#1b5e20"/><rect x="838" y="534" width="5" height="83" fill="#1b5e20"/>
<rect x="846" y="512" width="1" height="48" fill="#801922"/><rect x="844" y="534" width="5" height="3" fill="#801922"/>
<rect x="853" y="534" width="1" height="29" fill="#801922"/><rect x="851" y="536" width="5" height="25" fill="#801922"/>
<rect x="860" y="552" width="1" height="29" fill="#801922"/><rect x="858" y="560" width="5" height="8" fill="#801922"/>
<rect x="866" y="560" width="1" height="28" fill="#801922"/><rect x="864" y="567" width="5" height="17" fill="#801922"/>
<rect x="873" y="571" width="1" height="23" fill="#801922"/><rect x="871" y="583" width="5" height="5" fill="#801922"/>
<rect x="880" y="571" width="1" height="22" fill="#1b5e20"/><rect x="878" y="579" width="5" height="9" fill="#1b5e20"/>
<rect x="887" y="563" width="1" height="17" fill="#1b5e20"/><rect x="885" y="568" width="5" height="12" fill="#1b5e20"/>
<rect x="893" y="567" width="1" height="29" fill="#801922"/><rect x="891" y="568" width="5" height="21" fill="#801922"/>
<rect x="900" y="574" width="1" height="15" fill="#1b5e20"/><rect x="898" y="580" width="5" height="9" fill="#1b5e20"/>
<rect x="907" y="568" width="1" height="26" fill="#1b5e20"/><rect x="905" y="571" width="5" height="10" fill="#1b5e20"/>
<rect x="913" y="509" width="1" height="68" fill="#1b5e20"/><rect x="911" y="523" width="5" height="49" fill="#1b5e20"/>
<rect x="920" y="490" width="1" height="46" fill="#1b5e20"/><rect x="918" y="490" width="5" height="33" fill="#1b5e20"/>
<rect x="927" y="468" width="1" height="44" fill="#801922"/><rect x="925" y="490" width="5" height="2" fill="#801922"/>
<rect x="934" y="431" width="1" height="76" fill="#1b5e20"/><rect x="932" y="451" width="5" height="41" fill="#1b5e20"/>
<rect x="940" y="435" width="1" height="21" fill="#1b5e20"/><rect x="938" y="437" width="5" height="15" fill="#1b5e20"/>
<rect x="947" y="433" width="1" height="23" fill="#801922"/><rect x="945" y="437" width="5" height="10" fill="#801922"/>
<rect x="954" y="433" width="1" height="61" fill="#801922"/><rect x="952" y="446" width="5" height="36" fill="#801922"/>
<rect x="960" y="449" width="1" height="41" fill="#1b5e20"/><rect x="958" y="458" width="5" height="24" fill="#1b5e20"/>
<rect x="967" y="442" width="1" height="33" fill="#1b5e20"/><rect x="965" y="452" width="5" height="7" fill="#1b5e20"/>
<rect x="974" y="404" width="1" height="62" fill="#1b5e20"/><rect x="972" y="437" width="5" height="16" fill="#1b5e20"/>
<rect x="981" y="434" width="1" height="57" fill="#801922"/><rect x="979" y="437" width="5" height="54" fill="#801922"/>
<rect x="987" y="468" width="1" height="23" fill="#1b5e20"/><rect x="985" y="474" width="5" height="17" fill="#1b5e20"/>
<rect x="994" y="468" width="1" height="73" fill="#801922"/><rect x="992" y="474" width="5" height="59" fill="#801922"/>
<rect x="1001" y="523" width="1" height="30" fill="#801922"/><rect x="999" y="532" width="5" height="11" fill="#801922"/>
<rect x="1007" y="539" width="1" height="24" fill="#801922"/><rect x="1005" y="542" width="5" height="4" fill="#801922"/>
<rect x="1014" y="533" width="1" height="23" fill="#1b5e20"/><rect x="1012" y="537" width="5" height="9" fill="#1b5e20"/>
<rect x="1021" y="526" width="1" height="20" fill="#801922"/><rect x="1019" y="537" width="5" height="7" fill="#801922"/>
<rect x="1028" y="477" width="1" height="67" fill="#1b5e20"/><rect x="1026" y="482" width="5" height="62" fill="#1b5e20"/>
<rect x="1034" y="473" width="1" height="106" fill="#801922"/><rect x="1032" y="482" width="5" height="92" fill="#801922"/>
<rect x="1041" y="569" width="1" height="47" fill="#801922"/><rect x="1039" y="573" width="5" height="29" fill="#801922"/>
<rect x="1048" y="578" width="1" height="27" fill="#1b5e20"/><rect x="1046" y="589" width="5" height="13" fill="#1b5e20"/>
<rect x="1054" y="559" width="1" height="52" fill="#1b5e20"/><rect x="1052" y="574" width="5" height="16" fill="#1b5e20"/>
<rect x="1061" y="513" width="1" height="76" fill="#1b5e20"/><rect x="1059" y="532" width="5" height="43" fill="#1b5e20"/>
<rect x="1068" y="522" width="1" height="39" fill="#801922"/><rect x="1066" y="532" width="5" height="17" fill="#801922"/>
<rect x="1074" y="532" width="1" height="71" fill="#801922"/><rect x="1072" y="548" width="5" height="51" fill="#801922"/>
<rect x="1081" y="593" width="1" height="107" fill="#801922"/><rect x="1079" y="598" width="5" height="86" fill="#801922"/>
<rect x="1088" y="626" width="1" height="79" fill="#1b5e20"/><rect x="1086" y="651" width="5" height="34" fill="#1b5e20"/>
<rect x="1095" y="646" width="1" height="35" fill="#801922"/><rect x="1093" y="651" width="5" height="19" fill="#801922"/>
<rect x="1101" y="668" width="1" height="102" fill="#801922"/><rect x="1099" y="669" width="5" height="64" fill="#801922"/>
<rect x="1108" y="720" width="1" height="58" fill="#801922"/><rect x="1106" y="732" width="5" height="32" fill="#801922"/>
<rect x="1115" y="727" width="1" height="89" fill="#1b5e20"/><rect x="1113" y="743" width="5" height="21" fill="#1b5e20"/>
<rect x="1121" y="724" width="1" height="82" fill="#801922"/><rect x="1119" y="743" width="5" height="32" fill="#801922"/>
<rect x="1128" y="770" width="1" height="61" fill="#801922"/><rect x="1126" y="775" width="5" height="39" fill="#801922"/>
<rect x="1135" y="743" width="1" height="71" fill="#1b5e20"/><rect x="1133" y="755" width="5" height="59" fill="#1b5e20"/>
<rect x="1142" y="750" width="1" height="21" fill="#801922"/><rect x="1140" y="755" width="5" height="4" fill="#801922"/>
<rect x="1148" y="757" width="1" height="23" fill="#801922"/><rect x="1146" y="758" width="5" height="21" fill="#801922"/>
<rect x="1155" y="753" width="1" height="29" fill="#1b5e20"/><rect x="1153" y="760" width="5" height="19" fill="#1b5e20"/>
<rect x="1162" y="756" width="1" height="21" fill="#801922"/><rect x="1160" y="760" width="5" height="9" fill="#801922"/>
<rect x="1168" y="768" width="1" height="28" fill="#801922"/><rect x="1166" y="768" width="5" height="14" fill="#801922"/>
<rect x="1175" y="769" width="1" height="35" fill="#1b5e20"/><rect x="1173" y="774" width="5" height="8" fill="#1b5e20"/>
<rect x="1182" y="763" width="1" height="16" fill="#1b5e20"/><rect x="1180" y="765" width="5" height="10" fill="#1b5e20"/>
<rect x="1189" y="748" width="1" height="36" fill="#801922"/><rect x="1187" y="765" width="5" height="16" fill="#801922"/>
<rect x="1195" y="771" width="1" height="51" fill="#801922"/><rect x="1193" y="780" width="5" height="34" fill="#801922"/>
<rect x="1202" y="782" width="1" height="57" fill="#801922"/><rect x="1200" y="813" width="5" height="19" fill="#801922"/>
<rect x="1209" y="808" width="1" height="56" fill="#1b5e20"/><rect x="1207" y="824" width="5" height="8" fill="#1b5e20"/>
<rect x="1215" y="783" width="1" height="56" fill="#1b5e20"/><rect x="1213" y="784" width="5" height="40" fill="#1b5e20"/>
<rect x="1222" y="772" width="1" height="31" fill="#1b5e20"/><rect x="1220" y="779" width="5" height="6" fill="#1b5e20"/>
<rect x="1229" y="773" width="1" height="7" fill="#1b5e20"/><rect x="1227" y="773" width="5" height="7" fill="#1b5e20"/>
</g>
<path d="M10.0 543.0L531.5 450.7M531.5 450.7L524.9 446.6M531.5 450.7L526.7 456.8" stroke="#000" stroke-width="1.1" fill="none" stroke-linecap="round"/>
<path d="M1114.6 707.2L1202.0 749.8M1202.0 749.8L1199.1 742.6M1202.0 749.8L1194.5 752.0" stroke="#000" stroke-width="1.1" fill="none" stroke-linecap="round"/>
<path d="M1249.0 785.0L1296.2 818.0M1296.2 818.0L1294.4 810.4M1296.2 818.0L1288.5 819.0" stroke="#000" stroke-width="1.1" fill="none" stroke-linecap="round"/>
<path d="M1302.8 811.3L1403.5 707.3M1403.5 707.3L1395.7 707.8M1403.5 707.3L1403.2 715.1" stroke="#000" stroke-width="1.1" fill="none" stroke-linecap="round"/>
<g font-size="13" font-style="italic" fill="#000">
<text x="854.8" y="291" textLength="268.2" lengthAdjust="spacingAndGlyphs" >Potential area to break before a new ATH.</text>
<text x="1440" y="647" textLength="76.4" lengthAdjust="spacingAndGlyphs" >Target zone.</text>
<text x="1197" y="705" textLength="110" lengthAdjust="spacingAndGlyphs" >Liquidity to take.</text>
<text x="1392" y="855" textLength="370.7" lengthAdjust="spacingAndGlyphs" >Interested to see what we&#39;re doing around this price level.</text>
<text x="1191.6" y="888" textLength="360.4" lengthAdjust="spacingAndGlyphs" >The low has been taken out, equal to the CME Gap level.</text>
</g>
<circle cx="1229.6" cy="1172.4" r="11.4" fill="#fff"/>
<circle cx="1236.5" cy="1165.5" r="4.6" fill="#fff"/>
<path d="M1232.7 1163.0A9.9 9.9 0 1 0 1239.0 1169.3" fill="none" stroke="#9c27b0" stroke-width="1.25"/>
<path d="M1231.8 1167.2 L1225.2 1172.3 L1229.3 1173.2 L1226.3 1177.7 L1233.7 1172.3 L1230.1 1171.6Z" fill="#8e1fa8"/>
<circle cx="1236.5" cy="1165.5" r="2.6" fill="#f23645"/>
</g>
<rect x="10" y="141" width="2161" height="1" fill="#2e313c"/>
<rect x="10" y="1185" width="2161" height="1" fill="#4a4c57"/>
<rect x="2089" y="27" width="1" height="1190" fill="#4a4d58"/>
<g font-size="13.3" fill="#50535e">
<text x="2099.5" y="49.2" textLength="33.5" lengthAdjust="spacingAndGlyphs" >75.00</text>
<text x="2099.5" y="91.8" textLength="33.5" lengthAdjust="spacingAndGlyphs" >50.00</text>
<text x="2099.5" y="134.1" textLength="33.5" lengthAdjust="spacingAndGlyphs" >25.00</text>
<text x="2099.5" y="202.6" textLength="61" lengthAdjust="spacingAndGlyphs" >114,000.0</text>
<text x="2099.5" y="265.9" textLength="61" lengthAdjust="spacingAndGlyphs" >112,000.0</text>
<text x="2099.5" y="329.1" textLength="61" lengthAdjust="spacingAndGlyphs" >110,000.0</text>
<text x="2099.5" y="392.4" textLength="61" lengthAdjust="spacingAndGlyphs" >108,000.0</text>
<text x="2099.5" y="455.7" textLength="61" lengthAdjust="spacingAndGlyphs" >106,000.0</text>
<text x="2099.5" y="518.9" textLength="61" lengthAdjust="spacingAndGlyphs" >104,000.0</text>
<text x="2099.5" y="582.2" textLength="61" lengthAdjust="spacingAndGlyphs" >102,000.0</text>
<text x="2099.5" y="645.4" textLength="61" lengthAdjust="spacingAndGlyphs" >100,000.0</text>
<text x="2099.5" y="708.7" textLength="53.6" lengthAdjust="spacingAndGlyphs" >98,000.0</text>
<text x="2099.5" y="772.0" textLength="53.6" lengthAdjust="spacingAndGlyphs" >96,000.0</text>
<text x="2099.5" y="835.2" textLength="53.6" lengthAdjust="spacingAndGlyphs" >94,000.0</text>
<text x="2099.5" y="898.5" textLength="53.6" lengthAdjust="spacingAndGlyphs" >92,000.0</text>
<text x="2099.5" y="961.7" textLength="53.6" lengthAdjust="spacingAndGlyphs" >90,000.0</text>
<text x="2099.5" y="1025.0" textLength="53.6" lengthAdjust="spacingAndGlyphs" >88,000.0</text>
<text x="2099.5" y="1088.3" textLength="53.6" lengthAdjust="spacingAndGlyphs" >86,000.0</text>
<text x="2099.5" y="1151.5" textLength="53.6" lengthAdjust="spacingAndGlyphs" >84,000.0</text>
</g>
<g font-size="13.8" fill="#50535e" text-anchor="middle">
<text x="47.8" y="1205.4">19</text>
<text x="128.3" y="1205.4">21</text>
<text x="208.8" y="1205.4">23</text>
<text x="289.3" y="1205.4">25</text>
<text x="369.8" y="1205.4">27</text>
<text x="450.3" y="1205.4">29</text>
<text x="571.1" y="1205.4" font-weight="bold">Nov</text>
<text x="651.6" y="1205.4">3</text>
<text x="732.1" y="1205.4">5</text>
<text x="812.6" y="1205.4">7</text>
<text x="893.1" y="1205.4">9</text>
<text x="973.6" y="1205.4">11</text>
<text x="1054.1" y="1205.4">13</text>
<text x="1134.7" y="1205.4">15</text>
<text x="1215.2" y="1205.4">17</text>
<text x="1295.7" y="1205.4">19</text>
<text x="1376.2" y="1205.4">21</text>
<text x="1456.7" y="1205.4">23</text>
<text x="1537.2" y="1205.4">25</text>
<text x="1617.7" y="1205.4">27</text>
<text x="1698.2" y="1205.4">29</text>
<text x="1778.7" y="1205.4" font-weight="bold">Dec</text>
<text x="1859.2" y="1205.4">3</text>
<text x="1939.7" y="1205.4">5</text>
<text x="2020.2" y="1205.4">7</text>
</g>
<path d="M2090 255H2164a2 2 0 0 1 2 2V274a2 2 0 0 1 -2 2H2090Z" fill="#801922"/>
<text x="2099.5" y="269.7" font-size="13.8" font-weight="bold" fill="#fff" textLength="61" lengthAdjust="spacingAndGlyphs">111,918.6</text>
<path d="M2090 402H2164a2 2 0 0 1 2 2V421a2 2 0 0 1 -2 2H2090Z" fill="#1b5e20"/>
<text x="2099.5" y="416.7" font-size="13.8" font-weight="bold" fill="#fff" textLength="61" lengthAdjust="spacingAndGlyphs">107,260.0</text>
<path d="M2090 608H2164a2 2 0 0 1 2 2V627a2 2 0 0 1 -2 2H2090Z" fill="#000"/>
<text x="2099.5" y="622.7" font-size="13.8" font-weight="bold" fill="#fff" textLength="61" lengthAdjust="spacingAndGlyphs">100,739.3</text>
<path d="M2090 821H2157a2 2 0 0 1 2 2V840a2 2 0 0 1 -2 2H2090Z" fill="#1b5e20"/>
<text x="2098.2" y="835.7" font-size="13.8" font-weight="bold" fill="#fff" textLength="54.9" lengthAdjust="spacingAndGlyphs">94,018.6</text>
<path d="M2090 892H2157a2 2 0 0 1 2 2V911a2 2 0 0 1 -2 2H2090Z" fill="#000"/>
<text x="2098.2" y="906.7" font-size="13.8" font-weight="bold" fill="#fff" textLength="54.9" lengthAdjust="spacingAndGlyphs">91,779.2</text>
<path d="M2090 1057H2157a2 2 0 0 1 2 2V1076a2 2 0 0 1 -2 2H2090Z" fill="#000"/>
<text x="2098.2" y="1071.7" font-size="13.8" font-weight="bold" fill="#fff" textLength="54.9" lengthAdjust="spacingAndGlyphs">86,549.9</text>
<path d="M2089 763H2157a2 2 0 0 1 2 2V798a2 2 0 0 1 -2 2H2089Z" fill="#434651"/>
<text x="2098.2" y="778.1" font-size="13.8" font-weight="bold" fill="#fff" textLength="54.9" lengthAdjust="spacingAndGlyphs">95,840.8</text>
<text x="2098.8" y="794" font-size="13.5" fill="#d6d7dc" textLength="54.3" lengthAdjust="spacingAndGlyphs">03:42:13</text>
<rect x="2092.5" y="145.5" width="75" height="27" rx="4" fill="#fff"/>
<text x="2102" y="164" font-size="12.5" fill="#131722" textLength="27.5" lengthAdjust="spacingAndGlyphs">USDT</text>
<text x="10" y="19.3" font-size="13" font-weight="bold" fill="#f2f2f2" textLength="375.7" lengthAdjust="spacingAndGlyphs">CryptoMichNL created with TradingView.com, Nov 17, 2025 08:17 UTC</text>
<g fill="#e8e8e8">
<path d="M12 1239.1H24.1V1253.9H17.8V1245.3H12Z"/>
<circle cx="29.1" cy="1242.3" r="3.15"/>
<path d="M33.5 1239.1H41.8L36.8 1253.9H28.6Z"/>
<text x="49.2" y="1253.9" font-size="20.3" font-weight="bold" textLength="120.4" lengthAdjust="spacingAndGlyphs">TradingView</text>
</g>
</svg></body></html>
